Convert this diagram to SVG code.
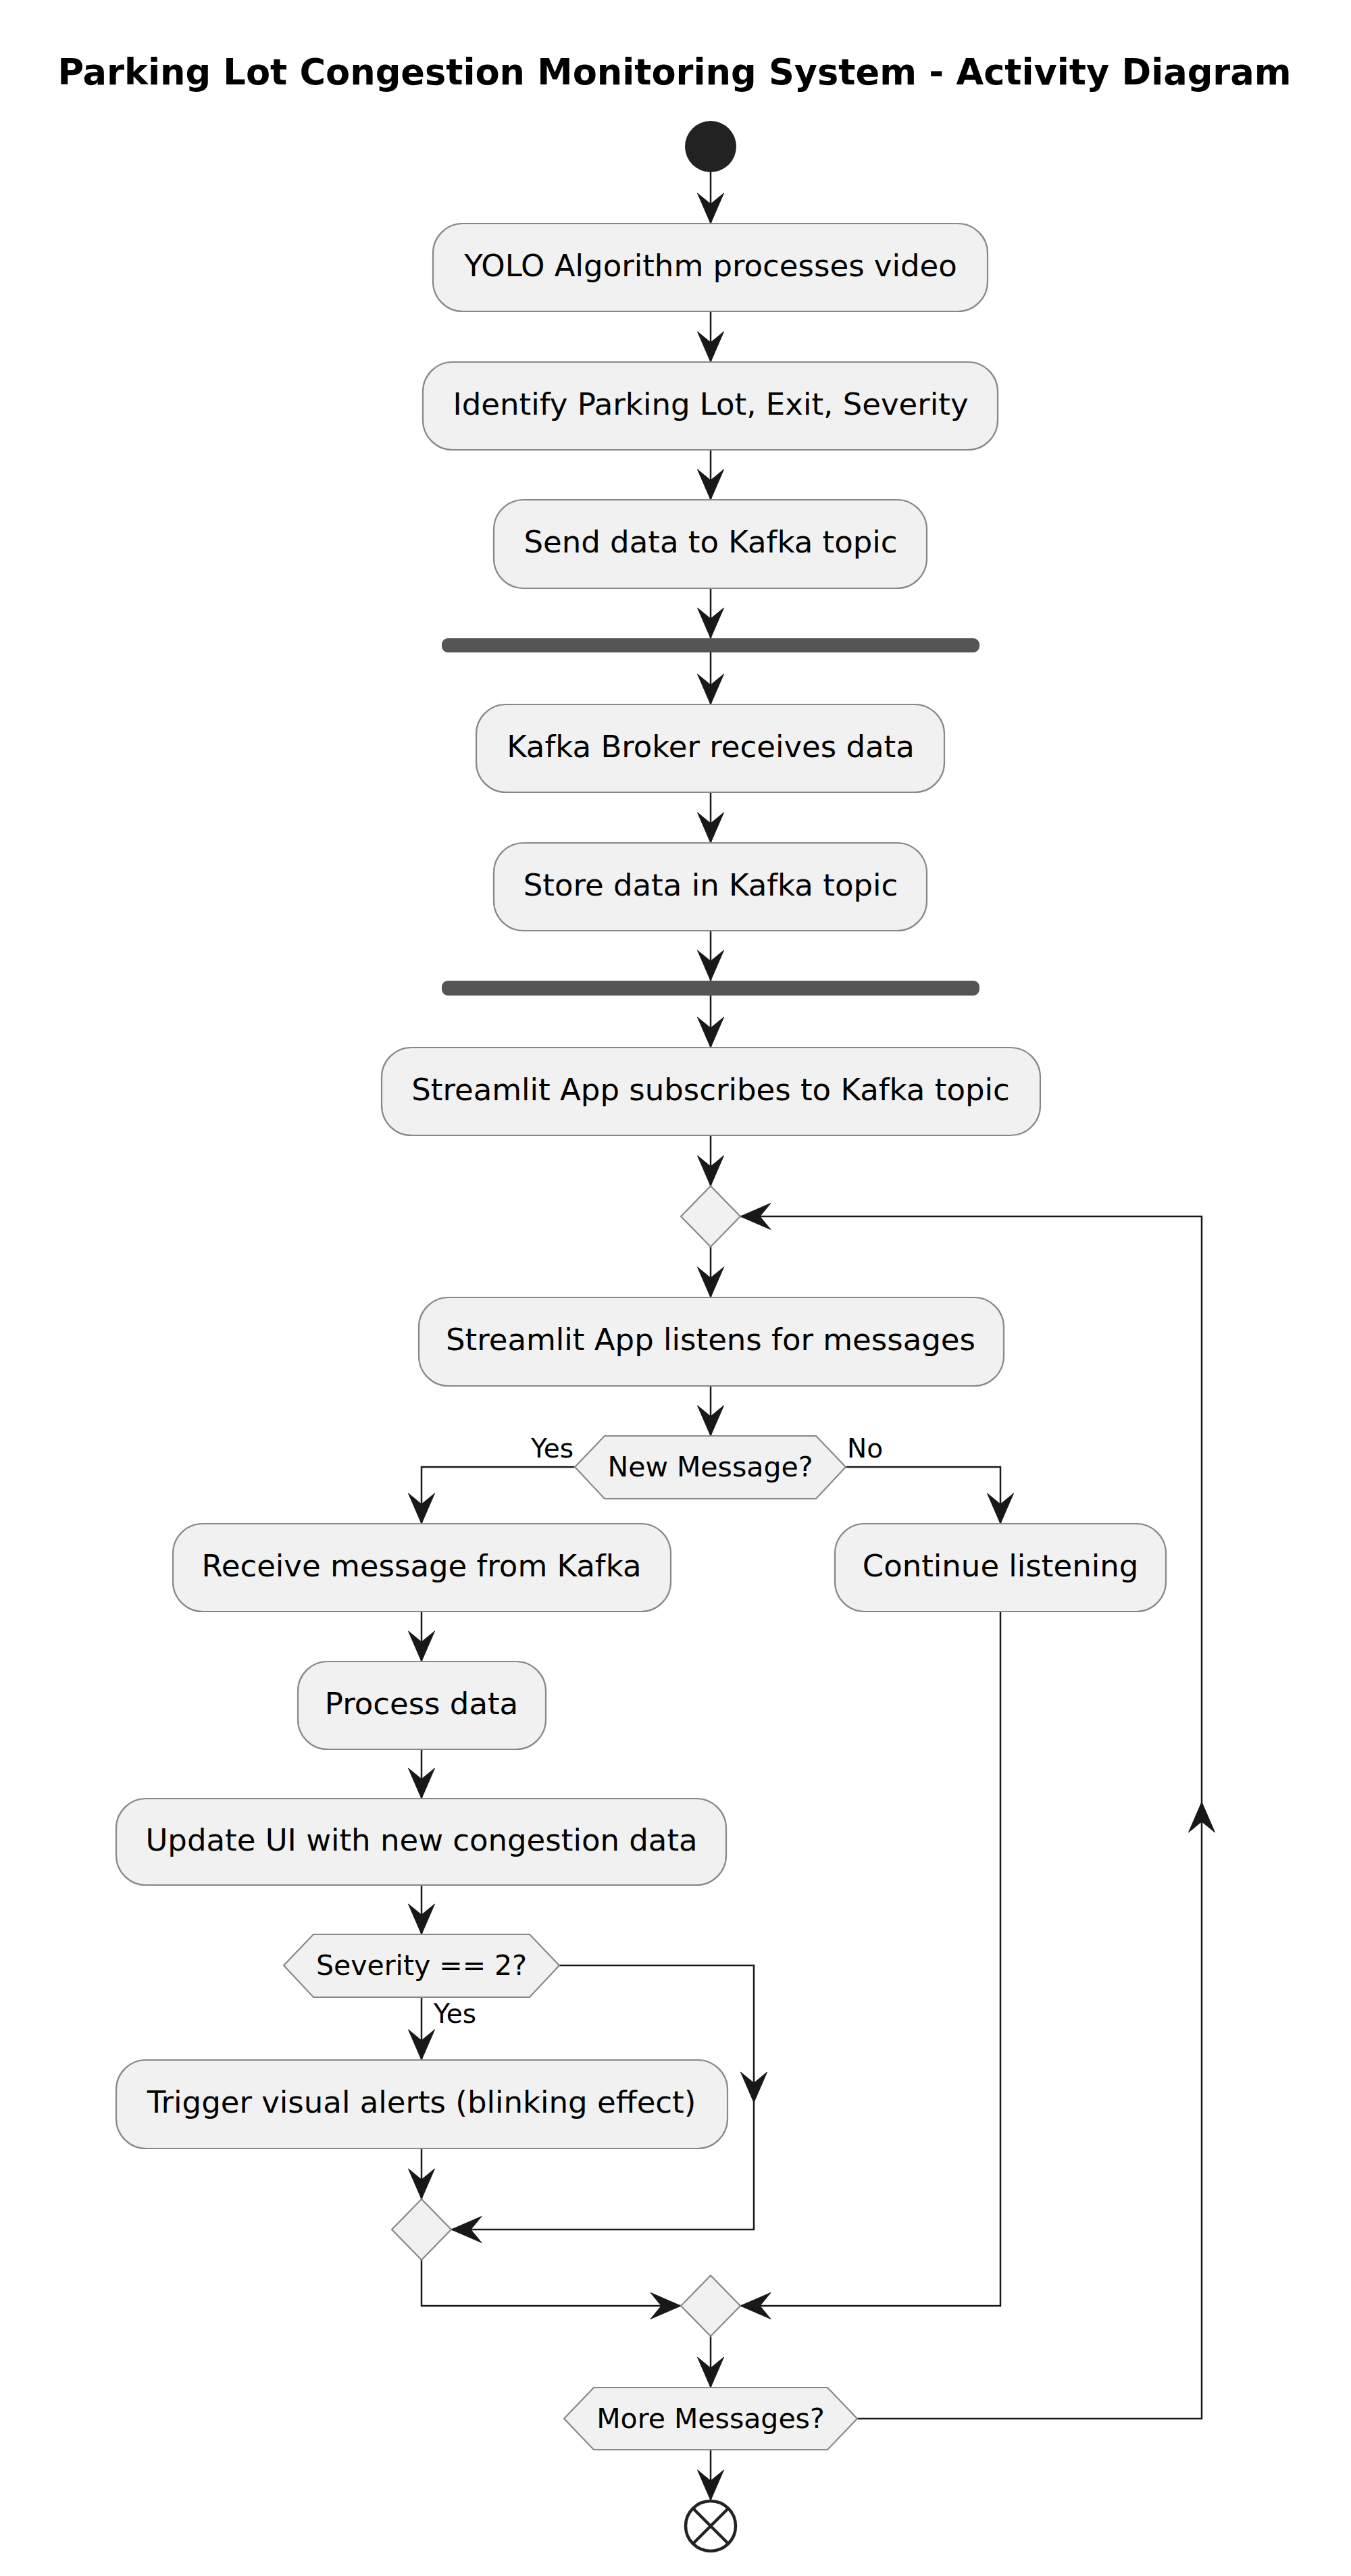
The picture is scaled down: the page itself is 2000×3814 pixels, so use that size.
<svg xmlns="http://www.w3.org/2000/svg" xmlns:xlink="http://www.w3.org/1999/xlink" width="2000" height="3814" viewBox="0 0 2000 3814">
<style>
.act{fill:#F1F1F1;stroke:#888888;stroke-width:2.2}
.dec{fill:#F1F1F1;stroke:#888888;stroke-width:2.2}
.bar{fill:#555555;stroke:none}
.t{font-family:"DejaVu Sans","Liberation Sans",sans-serif;font-size:45px;fill:#000000;text-anchor:middle}
.dt{font-family:"DejaVu Sans","Liberation Sans",sans-serif;font-size:41px;fill:#000000;text-anchor:middle}
.lbl{font-family:"DejaVu Sans","Liberation Sans",sans-serif;font-size:39px;fill:#000000}
.title{font-family:"DejaVu Sans","Liberation Sans",sans-serif;font-size:52.6px;font-weight:bold;fill:#000000;text-anchor:middle}
.ln{fill:none;stroke:#181818;stroke-width:2.5}
.ah{fill:#181818;stroke:#181818;stroke-width:1}
</style>
<defs>
<path id="ah" d="M0,0 L-19.5,-45 L0,-29 L19.5,-45 Z"/>
</defs>
<rect x="0" y="0" width="2000" height="3814" fill="#FFFFFF"/>
<text class="title" x="998.5" y="125">Parking Lot Congestion Monitoring System - Activity Diagram</text>

<g id="connectors">
<path class="ln" d="M1052,255 V331"/>
<path class="ln" d="M1052,461 V536"/>
<path class="ln" d="M1052,666 V740"/>
<path class="ln" d="M1052,871 V945"/>
<path class="ln" d="M1052,966 V1043"/>
<path class="ln" d="M1052,1173 V1248"/>
<path class="ln" d="M1052,1378 V1452"/>
<path class="ln" d="M1052,1474 V1551"/>
<path class="ln" d="M1052,1681 V1756"/>
<path class="ln" d="M1052,1846 V1921"/>
<path class="ln" d="M1052,2052 V2126"/>
<path class="ln" d="M851,2172 H624 V2256"/>
<path class="ln" d="M1252,2172 H1481 V2256"/>
<path class="ln" d="M624,2386 V2460"/>
<path class="ln" d="M624,2590 V2663"/>
<path class="ln" d="M624,2791 V2864"/>
<path class="ln" d="M624,2957 V3050"/>
<path class="ln" d="M828,2910 H1116 V3301 H668"/>
<path class="ln" d="M624,3181 V3256"/>
<path class="ln" d="M624,3346 V3414 H1008"/>
<path class="ln" d="M1481,2386 V3414 H1096"/>
<path class="ln" d="M1052,3459 V3535"/>
<path class="ln" d="M1269,3581 H1779 V1801 H1096"/>
<path class="ln" d="M1052,3627 V3702"/>
<use href="#ah" class="ah" transform="translate(1052,331)"/>
<use href="#ah" class="ah" transform="translate(1052,536)"/>
<use href="#ah" class="ah" transform="translate(1052,740)"/>
<use href="#ah" class="ah" transform="translate(1052,945)"/>
<use href="#ah" class="ah" transform="translate(1052,1043)"/>
<use href="#ah" class="ah" transform="translate(1052,1248)"/>
<use href="#ah" class="ah" transform="translate(1052,1452)"/>
<use href="#ah" class="ah" transform="translate(1052,1551)"/>
<use href="#ah" class="ah" transform="translate(1052,1756)"/>
<use href="#ah" class="ah" transform="translate(1052,1921)"/>
<use href="#ah" class="ah" transform="translate(1052,2126)"/>
<use href="#ah" class="ah" transform="translate(624,2256)"/>
<use href="#ah" class="ah" transform="translate(1481,2256)"/>
<use href="#ah" class="ah" transform="translate(624,2460)"/>
<use href="#ah" class="ah" transform="translate(624,2663)"/>
<use href="#ah" class="ah" transform="translate(624,2864)"/>
<use href="#ah" class="ah" transform="translate(624,3050)"/>
<use href="#ah" class="ah" transform="translate(1116,3113)"/>
<use href="#ah" class="ah" transform="translate(668,3301) rotate(90)"/>
<use href="#ah" class="ah" transform="translate(624,3256)"/>
<use href="#ah" class="ah" transform="translate(1008,3414) rotate(-90)"/>
<use href="#ah" class="ah" transform="translate(1096,3414) rotate(90)"/>
<use href="#ah" class="ah" transform="translate(1052,3535)"/>
<use href="#ah" class="ah" transform="translate(1779,2668) rotate(180)"/>
<use href="#ah" class="ah" transform="translate(1096,1801) rotate(90)"/>
<use href="#ah" class="ah" transform="translate(1052,3702)"/>
<text class="lbl" x="849" y="2158" text-anchor="end">Yes</text>
<text class="lbl" x="1254" y="2158">No</text>
<text class="lbl" x="642" y="2995">Yes</text>
</g>

<g id="start"><circle cx="1052" cy="217" r="38" fill="#222222"/></g>

<g id="n_yolo"><rect class="act" x="641" y="331" width="821" height="130" rx="44"/><text class="t" x="1052" y="409">YOLO Algorithm processes video</text></g>
<g id="n_identify"><rect class="act" x="626" y="536" width="851" height="130" rx="44"/><text class="t" x="1052" y="614">Identify Parking Lot, Exit, Severity</text></g>
<g id="n_send"><rect class="act" x="731" y="740" width="641" height="131" rx="44"/><text class="t" x="1052" y="818">Send data to Kafka topic</text></g>
<g id="fork1"><rect class="bar" x="654" y="945" width="796" height="21" rx="9"/></g>
<g id="n_broker"><rect class="act" x="705" y="1043" width="693" height="130" rx="44"/><text class="t" x="1052" y="1121">Kafka Broker receives data</text></g>
<g id="n_store"><rect class="act" x="731" y="1248" width="641" height="130" rx="44"/><text class="t" x="1052" y="1326">Store data in Kafka topic</text></g>
<g id="fork2"><rect class="bar" x="654" y="1452" width="796" height="22" rx="9"/></g>
<g id="n_subscribe"><rect class="act" x="565" y="1551" width="975" height="130" rx="44"/><text class="t" x="1052" y="1629">Streamlit App subscribes to Kafka topic</text></g>
<g id="loop_merge"><polygon class="dec" points="1052,1756 1096,1801 1052,1846 1008,1801"/></g>
<g id="n_listen"><rect class="act" x="620" y="1921" width="866" height="131" rx="44"/><text class="t" x="1052" y="1999">Streamlit App listens for messages</text></g>
<g id="d_newmsg"><polygon class="dec" points="851,2172 895,2126 1208,2126 1252,2172 1208,2219 895,2219"/><text class="dt" x="1051.5" y="2186">New Message?</text></g>
<g id="n_receive"><rect class="act" x="256" y="2256" width="737" height="130" rx="44"/><text class="t" x="624" y="2334">Receive message from Kafka</text></g>
<g id="n_continue"><rect class="act" x="1236" y="2256" width="490" height="130" rx="44"/><text class="t" x="1481" y="2334">Continue listening</text></g>
<g id="n_process"><rect class="act" x="441" y="2460" width="367" height="130" rx="44"/><text class="t" x="624" y="2538">Process data</text></g>
<g id="n_update"><rect class="act" x="172" y="2663" width="903" height="128" rx="44"/><text class="t" x="624" y="2740">Update UI with new congestion data</text></g>
<g id="d_severity"><polygon class="dec" points="420,2910 464,2864 784,2864 828,2910 784,2957 464,2957"/><text class="dt" x="624" y="2924">Severity == 2?</text></g>
<g id="n_trigger"><rect class="act" x="172" y="3050" width="905" height="131" rx="44"/><text class="t" x="624" y="3128">Trigger visual alerts (blinking effect)</text></g>
<g id="merge_severity"><polygon class="dec" points="624,3256 668,3301 624,3346 580,3301"/></g>
<g id="merge_msg"><polygon class="dec" points="1052,3369 1096,3414 1052,3459 1008,3414"/></g>
<g id="d_more"><polygon class="dec" points="835,3581 879,3535 1225,3535 1269,3581 1225,3627 879,3627"/><text class="dt" x="1052" y="3595">More Messages?</text></g>
<g id="end"><circle cx="1052" cy="3740" r="37" fill="#FFFFFF" stroke="#222222" stroke-width="4.5"/><path d="M1026,3714 L1078,3766 M1078,3714 L1026,3766" stroke="#222222" stroke-width="4.5" fill="none"/></g>
</svg>
